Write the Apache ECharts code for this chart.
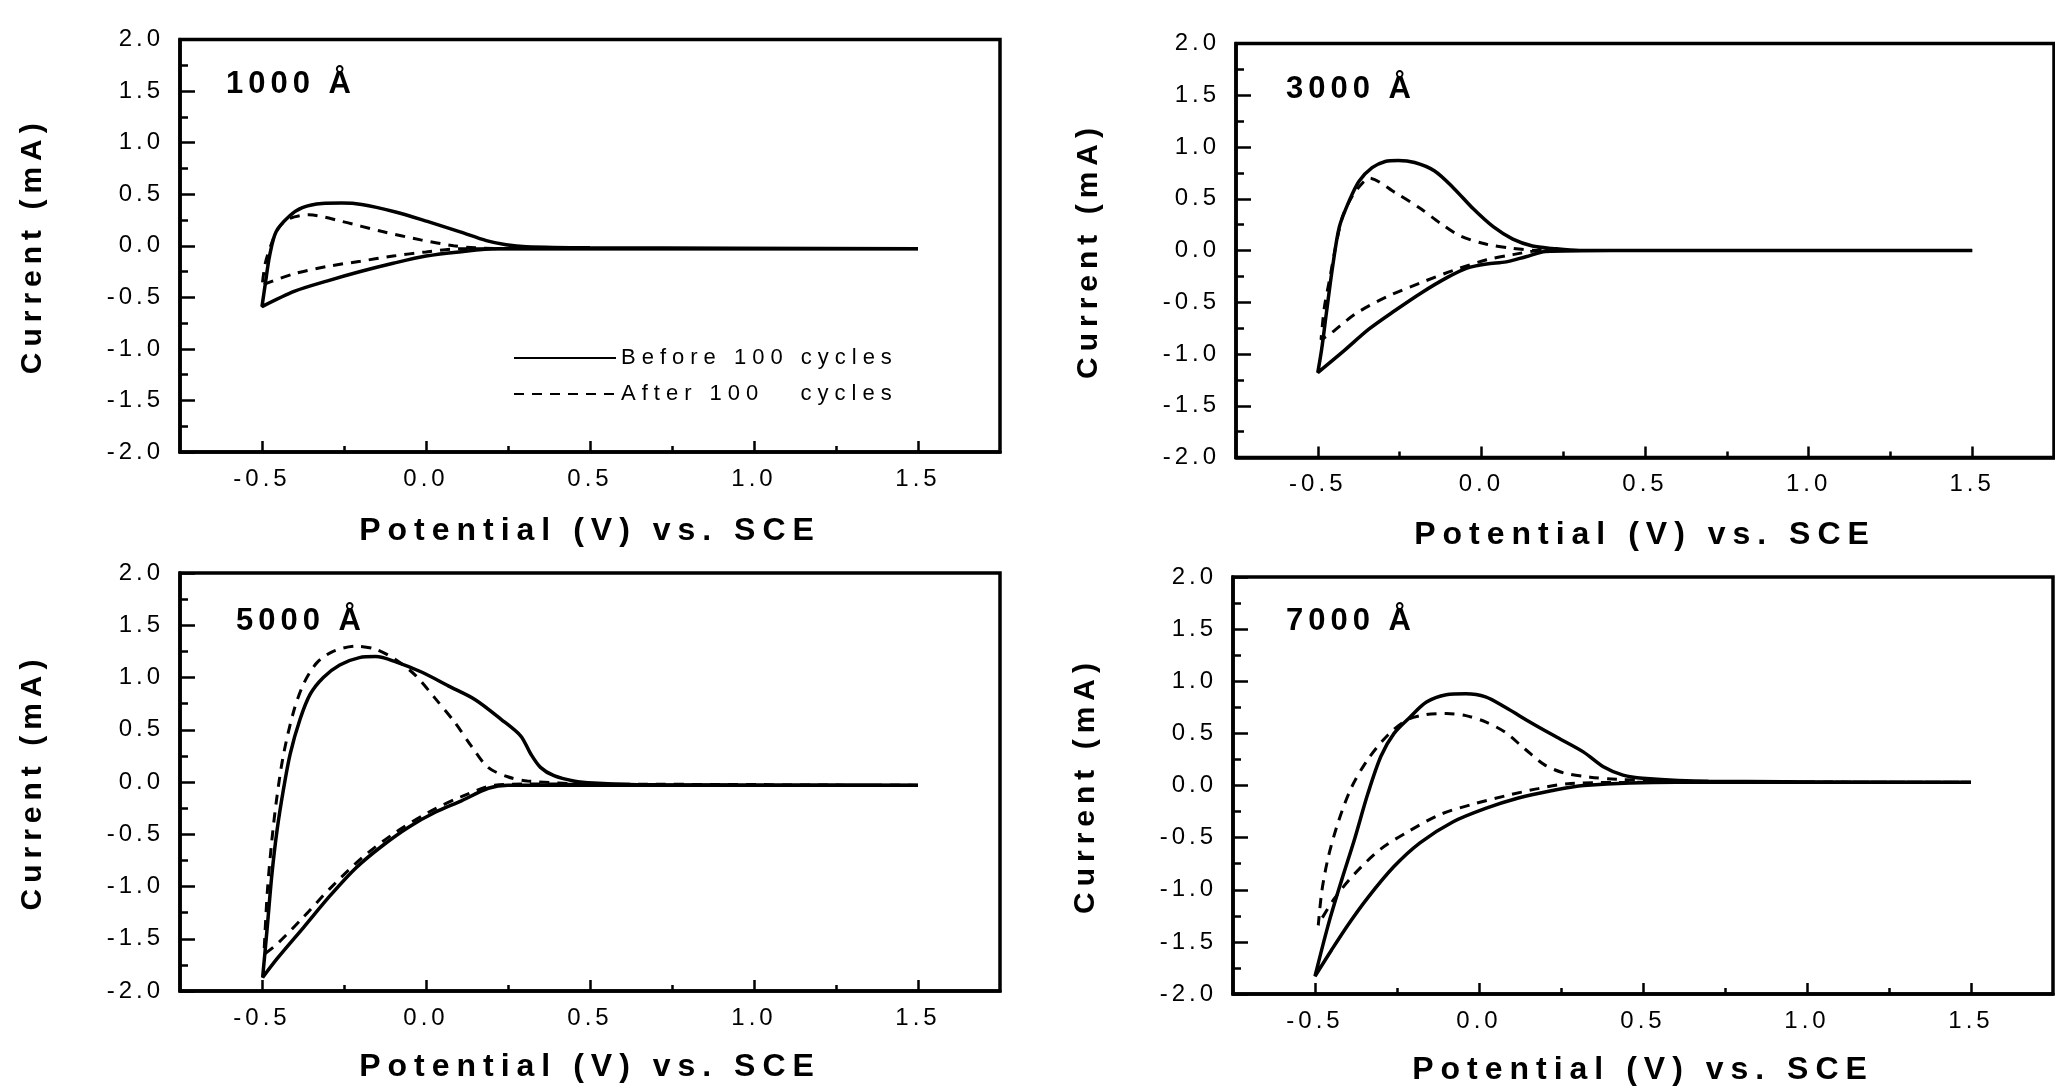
<!DOCTYPE html>
<html>
<head>
<meta charset="utf-8">
<script src="https://cdn.jsdelivr.net/npm/echarts@6/dist/echarts.min.js"></script>
<style>
html,body{margin:0;padding:0;background:#fff;}
#c{width:2055px;height:1089px;}
</style>
</head>
<body>
<div id="c"></div>
<script>
// ---------------- DATA ----------------
var panelLabels = ['1000 Å', '3000 Å', '5000 Å', '7000 Å'];
var seriesNames = ['Before 100 cycles', 'After 100   cycles'];
var xMajorTicks = [-0.5, 0.0, 0.5, 1.0, 1.5];
var xMinorTicks = [-0.25, 0.25, 0.75, 1.25];
var xTitle = 'Potential (V) vs. SCE';
var yTitle = 'Current (mA)';

// Panel 1 (1000 Å)
var p1BeforeV = [1.5, 0.6, 0.30, 0.22, 0.10, 0.0, -0.1, -0.2, -0.3, -0.4, -0.5,
  -0.49, -0.477, -0.457, -0.417, -0.377, -0.317, -0.257, -0.196, -0.096, 0.004, 0.104, 0.184, 0.244, 0.305, 0.5, 1.5];
var p1BeforeI = [-0.03, -0.03, -0.03, -0.03, -0.06, -0.10, -0.17, -0.25, -0.34, -0.44, -0.59,
  -0.37, -0.10, 0.135, 0.286, 0.37, 0.41, 0.414, 0.40, 0.33, 0.236, 0.135, 0.05, 0.01, -0.01, -0.02, -0.03];
var p1AfterV = [1.5, 0.3, 0.15, 0.10, 0.0, -0.1, -0.2, -0.3, -0.4, -0.49, -0.5,
  -0.49, -0.47, -0.45, -0.42, -0.357, -0.257, -0.136, -0.016, 0.084, 0.15, 0.3, 1.5];
var p1AfterI = [-0.03, -0.03, -0.03, -0.03, -0.06, -0.10, -0.15, -0.20, -0.27, -0.37, -0.40,
  -0.17, 0.03, 0.17, 0.26, 0.30, 0.236, 0.14, 0.057, 0.0, -0.02, -0.03, -0.03];

// Panel 2 (3000 Å)
var p2BeforeV = [1.5, 0.4, 0.196, 0.136, 0.076, 0.016, -0.044, -0.104, -0.184, -0.264, -0.344, -0.424, -0.5,
  -0.488, -0.474, -0.454, -0.434, -0.404, -0.374, -0.334, -0.294, -0.254, -0.204, -0.144, -0.084, -0.024, 0.036, 0.096, 0.156, 0.216, 0.3, 1.5];
var p2BeforeI = [0.0, 0.0, -0.01, -0.06, -0.11, -0.13, -0.17, -0.26, -0.41, -0.58, -0.76, -0.98, -1.18,
  -0.95, -0.61, -0.14, 0.23, 0.48, 0.67, 0.80, 0.86, 0.87, 0.85, 0.77, 0.60, 0.40, 0.23, 0.11, 0.044, 0.02, 0.0, 0.0];
var p2AfterV = [1.5, 0.3, 0.18, 0.096, 0.016, -0.084, -0.184, -0.284, -0.384, -0.464, -0.49,
  -0.48, -0.464, -0.444, -0.424, -0.394, -0.364, -0.344, -0.264, -0.184, -0.124, -0.064, 0.016, 0.096, 0.176, 0.3, 1.5];
var p2AfterI = [0.0, 0.0, 0.0, -0.04, -0.09, -0.19, -0.31, -0.44, -0.61, -0.81, -0.86,
  -0.55, -0.28, 0.06, 0.33, 0.53, 0.65, 0.70, 0.56, 0.40, 0.26, 0.14, 0.06, 0.02, 0.0, 0.0, 0.0];

// Panel 3 (5000 Å)
var p3BeforeV = [1.5, 0.6, 0.25, 0.19, 0.108, 0.028, -0.052, -0.133, -0.213, -0.293, -0.373, -0.454, -0.498,
  -0.484, -0.470, -0.454, -0.434, -0.414, -0.384, -0.353, -0.313, -0.263, -0.203, -0.153, -0.092, -0.012, 0.068, 0.149, 0.229, 0.289, 0.319, 0.349, 0.390, 0.450, 0.510, 0.7, 1.5];
var p3BeforeI = [-0.03, -0.03, -0.03, -0.06, -0.18, -0.29, -0.43, -0.61, -0.82, -1.09, -1.39, -1.69, -1.87,
  -1.39, -0.89, -0.46, -0.06, 0.27, 0.60, 0.84, 1.0, 1.12, 1.19, 1.20, 1.15, 1.05, 0.92, 0.79, 0.60, 0.44, 0.27, 0.14, 0.06, 0.01, -0.01, -0.03, -0.03];
var p3AfterV = [1.5, 0.3, 0.21, 0.108, 0.008, -0.092, -0.193, -0.293, -0.373, -0.454, -0.494,
  -0.484, -0.470, -0.454, -0.434, -0.404, -0.373, -0.333, -0.283, -0.213, -0.153, -0.092, -0.032, 0.028, 0.088, 0.139, 0.189, 0.249, 0.309, 0.5, 1.5];
var p3AfterI = [-0.03, -0.02, -0.03, -0.14, -0.29, -0.48, -0.72, -1.02, -1.29, -1.55, -1.65,
  -1.06, -0.56, -0.13, 0.27, 0.67, 0.94, 1.14, 1.25, 1.30, 1.27, 1.17, 1.02, 0.80, 0.57, 0.34, 0.14, 0.05, 0.01, -0.02, -0.03];

// Panel 4 (7000 Å)
var p4BeforeV = [1.5, 0.6, 0.319, 0.22, 0.12, 0.02, -0.08, -0.18, -0.26, -0.34, -0.40, -0.45, -0.50,
  -0.459, -0.419, -0.379, -0.339, -0.299, -0.259, -0.209, -0.160, -0.100, -0.040, 0.020, 0.080, 0.160, 0.239, 0.319, 0.379, 0.439, 0.499, 0.7, 1.5];
var p4BeforeI = [0.03, 0.03, 0.0, -0.05, -0.12, -0.22, -0.35, -0.55, -0.78, -1.08, -1.34, -1.58, -1.83,
  -1.33, -0.91, -0.51, -0.08, 0.28, 0.50, 0.66, 0.80, 0.87, 0.88, 0.85, 0.75, 0.60, 0.46, 0.32, 0.18, 0.10, 0.07, 0.04, 0.03];
var p4AfterV = [1.5, 0.5, 0.28, 0.18, 0.08, -0.02, -0.12, -0.22, -0.30, -0.38, -0.44, -0.48, -0.49,
  -0.479, -0.459, -0.429, -0.389, -0.339, -0.279, -0.219, -0.160, -0.100, -0.040, 0.020, 0.080, 0.140, 0.199, 0.259, 0.339, 0.419, 0.6, 1.5];
var p4AfterI = [0.03, 0.03, 0.02, -0.03, -0.10, -0.18, -0.28, -0.45, -0.61, -0.85, -1.08, -1.28, -1.34,
  -1.01, -0.68, -0.35, -0.02, 0.25, 0.48, 0.63, 0.68, 0.69, 0.67, 0.61, 0.51, 0.35, 0.20, 0.12, 0.08, 0.06, 0.04, 0.03];

// ---------------- letter spacing (scanned typography is widely spaced) ----------------
var LETTER_SPACING = {'24': 4, '32': 7, '30': 6, '31': 5, '22': 6};
(function () {
  var P = CanvasRenderingContext2D.prototype;
  var orig = P.fillText;
  P.fillText = function (t, x, y, w) {
    var m = /(\d+(?:\.\d+)?)px/.exec(this.font || '');
    var ls = m && LETTER_SPACING[m[1]] != null ? LETTER_SPACING[m[1]] : 0;
    try { this.letterSpacing = ls + 'px'; } catch (e) {}
    var r = (w === undefined) ? orig.call(this, t, x, y) : orig.call(this, t, x, y, w);
    try { this.letterSpacing = '0px'; } catch (e) {}
    return r;
  };
})();

// ---------------- CHART ----------------
function zip(a, b) { var o = []; for (var i = 0; i < a.length; i++) o.push([a[i], b[i]]); return o; }

var FONT = 'Liberation Sans, Arial, sans-serif';
var grids = [
  {left: 180, top: 39.5, width: 820, height: 412.5, xGap: 63},
  {left: 1236, top: 43.5, width: 818, height: 414, xGap: 62},
  {left: 180, top: 573, width: 820, height: 418, xGap: 60},
  {left: 1233, top: 577, width: 820, height: 417, xGap: 60}
];
var labelPos = [[226, 69], [1286, 74], [236, 606], [1286, 606]];
var data = [
  [zip(p1BeforeV, p1BeforeI), zip(p1AfterV, p1AfterI)],
  [zip(p2BeforeV, p2BeforeI), zip(p2AfterV, p2AfterI)],
  [zip(p3BeforeV, p3BeforeI), zip(p3AfterV, p3AfterI)],
  [zip(p4BeforeV, p4BeforeI), zip(p4AfterV, p4AfterI)]
];

var option = {
  backgroundColor: '#fff',
  animation: false,
  textStyle: {fontFamily: FONT, color: '#000'},
  grid: [], xAxis: [], yAxis: [], series: [], graphic: [],
  legend: {
    left: 508, top: 342, orient: 'vertical', itemWidth: 102, itemHeight: 14, itemGap: 14,
    data: seriesNames,
    itemStyle: {opacity: 0},
    textStyle: {fontFamily: FONT, fontSize: 22, color: '#000', padding: [0, 0, 0, 0]},
    selectedMode: false
  }
};

grids.forEach(function (g, i) {
  option.grid.push({left: g.left, top: g.top, width: g.width, height: g.height,
    show: true, borderColor: '#000', borderWidth: 3.5, backgroundColor: 'transparent',
    containLabel: false, outerBoundsMode: 'none'});
  option.xAxis.push({
    type: 'value', gridIndex: i, min: -0.75, max: 1.75, interval: 0.25,
    name: xTitle, nameLocation: 'middle', nameGap: g.xGap,
    nameTextStyle: {fontFamily: FONT, fontSize: 32, fontWeight: 'bold', color: '#000'},
    axisLine: {show: true, onZero: false, lineStyle: {color: '#000', width: 3.5}},
    axisTick: {show: true, inside: true, length: 11, customValues: xMajorTicks, lineStyle: {color: '#000', width: 2.5}},
    axisLabel: {show: true, customValues: xMajorTicks, margin: 15, fontFamily: FONT, fontSize: 24, color: '#000',
      formatter: function (v) { return v.toFixed(1); }},
    splitLine: {show: false}
  });
  option.xAxis.push({
    type: 'value', gridIndex: i, min: -0.75, max: 1.75, interval: 0.25, position: 'bottom',
    axisLine: {show: false, onZero: false},
    axisTick: {show: true, inside: true, length: 6, customValues: xMinorTicks, lineStyle: {color: '#000', width: 2.5}},
    axisLabel: {show: false}, splitLine: {show: false}
  });
  option.yAxis.push({
    type: 'value', gridIndex: i, min: -2, max: 2, interval: 0.5,
    name: yTitle, nameLocation: 'middle', nameGap: 132, nameRotate: 90,
    nameTextStyle: {fontFamily: FONT, fontSize: 30, fontWeight: 'bold', color: '#000'},
    axisLine: {show: true, onZero: false, lineStyle: {color: '#000', width: 3.5}},
    axisTick: {show: true, inside: true, length: 15, lineStyle: {color: '#000', width: 2.5}},
    minorTick: {show: true, splitNumber: 2, length: 8, lineStyle: {color: '#000', width: 2.5}},
    axisLabel: {show: true, margin: 16, fontFamily: FONT, fontSize: 24, color: '#000',
      formatter: function (v) { return v.toFixed(1); }},
    splitLine: {show: false}, minorSplitLine: {show: false}
  });
  option.series.push({
    type: 'line', name: seriesNames[0], xAxisIndex: 2 * i, yAxisIndex: i,
    data: data[i][0], showSymbol: false, symbol: 'none', smooth: 0.3,
    lineStyle: {color: '#000', width: 3.5, type: 'solid'}, itemStyle: {color: '#000'}
  });
  option.series.push({
    type: 'line', name: seriesNames[1], xAxisIndex: 2 * i, yAxisIndex: i,
    data: data[i][1], showSymbol: false, symbol: 'none', smooth: 0.3,
    lineStyle: {color: '#000', width: 3, type: [10, 8]}, itemStyle: {color: '#000'}
  });
  option.graphic.push({
    type: 'text', left: labelPos[i][0], top: labelPos[i][1],
    style: {text: panelLabels[i], font: 'bold 31px ' + FONT, fill: '#000'}
  });
});

var chart = echarts.init(document.getElementById('c'), null, {renderer: 'canvas', devicePixelRatio: 1});
chart.setOption(option);
</script>
</body>
</html>
